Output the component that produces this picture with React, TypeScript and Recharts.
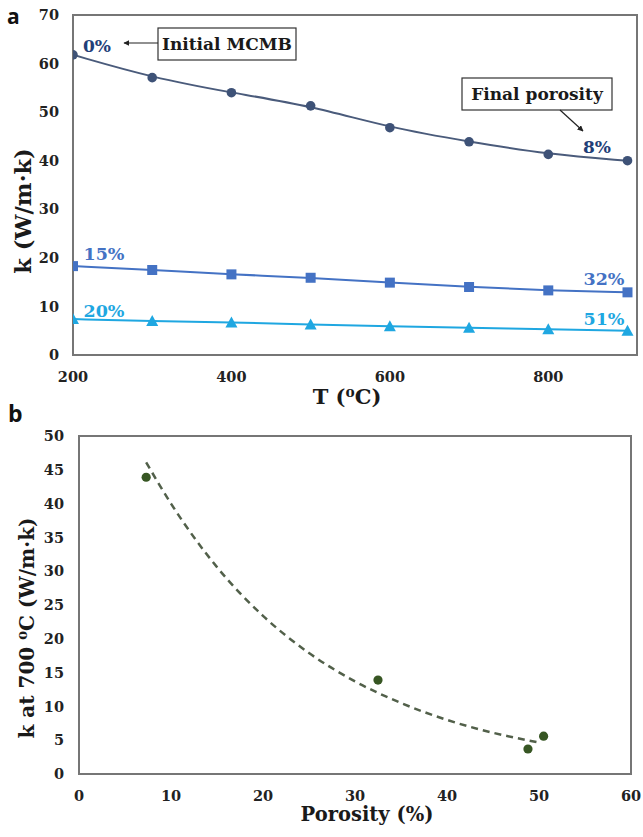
import React from "react";
import {
  ComposedChart,
  Line,
  Scatter,
  XAxis,
  YAxis,
  ReferenceArea,
} from "recharts";

// ---- Panel a data ----
const temps = [200, 300, 400, 500, 600, 700, 800, 900];
const kInitial = [61.8, 57.1, 54.0, 51.3, 46.8, 43.9, 41.3, 40.0];
const kMid = [18.3, 17.5, 16.6, 15.9, 14.9, 14.0, 13.3, 12.9];
const kLow = [7.4, 7.0, 6.7, 6.3, 5.9, 5.6, 5.3, 5.0];
const tTicks = [200, 400, 600, 800];
const kTicksA = [0, 10, 20, 30, 40, 50, 60, 70];

// ---- Panel b data ----
const porosity = [7.3, 32.5, 48.8, 50.5];
const k700 = [43.9, 13.9, 3.7, 5.6];
const trendPorosity = [7.3, 10, 15, 20, 25, 30, 35, 40, 45, 49.8];
const trendK = [46.1, 40.0, 30.6, 23.4, 17.9, 13.7, 10.5, 8.0, 6.1, 4.7];
const porTicks = [0, 10, 20, 30, 40, 50, 60];
const kTicksB = [0, 5, 10, 15, 20, 25, 30, 35, 40, 45, 50];

const rowsA = temps.map((t, i) => ({ T: t, a: kInitial[i], b: kMid[i], c: kLow[i] }));
const rowsB = porosity.map((p, i) => ({ x: p, k: k700[i] }));
const rowsTrend = trendPorosity.map((p, i) => ({ x: p, k: trendK[i] }));

const SERIF = "DejaVu Serif";
const AXIS = "#767676";
const C1 = "#4A5B7B";
const C1DOT = "#3E5277";
const C1TXT = "#223E78";
const C2 = "#4472C4";
const C3 = "#1FA7E1";
const GREEN = "#375623";
const TREND = "#52604A";

const tickStyle = { fontFamily: SERIF, fontWeight: 700, fontSize: 14.5, fill: "#222" };

const CircleDot = (props: any) => {
  const { cx, cy, index } = props;
  if (cx == null || cy == null) return <g key={`c${index}`} />;
  return <circle key={`c${index}`} cx={cx} cy={cy} r={4.8} fill={C1DOT} />;
};
const SquareDot = (props: any) => {
  const { cx, cy, index } = props;
  if (cx == null || cy == null) return <g key={`s${index}`} />;
  return <rect key={`s${index}`} x={cx - 5} y={cy - 5} width={10} height={10} fill={C2} />;
};
const TriDot = (props: any) => {
  const { cx, cy, index } = props;
  if (cx == null || cy == null) return <g key={`t${index}`} />;
  return (
    <polygon
      key={`t${index}`}
      points={`${cx},${cy - 6} ${cx - 6},${cy + 5} ${cx + 6},${cy + 5}`}
      fill={C3}
    />
  );
};

const labelFont = { fontFamily: SERIF, fontWeight: 700 } as const;

export default function App() {
  return (
    <div
      style={{
        position: "absolute",
        left: 0,
        top: 0,
        width: 643,
        height: 837,
        background: "#fff",
        overflow: "hidden",
      }}
    >
      <div style={{ position: "absolute", left: 0, top: 0 }}>
        <ComposedChart
          width={643}
          height={410}
          data={rowsA}
          margin={{ top: 15, right: 6, bottom: 0, left: 0 }}
        >
          <XAxis
            type="number"
            dataKey="T"
            domain={[200, 912]}
            ticks={tTicks}
            allowDataOverflow
            height={55}
            tickSize={0}
            tickMargin={17}
            tick={tickStyle}
            axisLine={{ stroke: AXIS, strokeWidth: 2 }}
          />
          <YAxis
            type="number"
            domain={[0, 70]}
            ticks={kTicksA}
            width={73}
            tickSize={0}
            tickMargin={14}
            tick={tickStyle}
            axisLine={{ stroke: AXIS, strokeWidth: 2 }}
          />
          <ReferenceArea
            x1={200}
            x2={912}
            y1={0}
            y2={70}
            fill="none"
            fillOpacity={0}
            stroke={AXIS}
            strokeWidth={2}
          />
          <Line
            type="basis"
            dataKey="a"
            stroke={C1}
            strokeWidth={2}
            dot={CircleDot}
            activeDot={false}
            isAnimationActive={false}
          />
          <Line
            type="basis"
            dataKey="b"
            stroke={C2}
            strokeWidth={2}
            dot={SquareDot}
            activeDot={false}
            isAnimationActive={false}
          />
          <Line
            type="basis"
            dataKey="c"
            stroke={C3}
            strokeWidth={2}
            dot={TriDot}
            activeDot={false}
            isAnimationActive={false}
          />
        </ComposedChart>
      </div>

      <div style={{ position: "absolute", left: 0, top: 400 }}>
        <ComposedChart
          width={643}
          height={437}
          margin={{ top: 36, right: 12, bottom: 0, left: 0 }}
        >
          <XAxis
            type="number"
            dataKey="x"
            domain={[0, 60]}
            ticks={porTicks}
            height={63}
            tickSize={0}
            tickMargin={17}
            tick={tickStyle}
            axisLine={{ stroke: AXIS, strokeWidth: 2 }}
          />
          <YAxis
            type="number"
            domain={[0, 50]}
            ticks={kTicksB}
            width={79}
            tickSize={0}
            tickMargin={15}
            tick={tickStyle}
            axisLine={{ stroke: AXIS, strokeWidth: 2 }}
          />
          <ReferenceArea
            x1={0}
            x2={60}
            y1={0}
            y2={50}
            fill="none"
            fillOpacity={0}
            stroke={AXIS}
            strokeWidth={2}
          />
          <Line
            data={rowsTrend}
            type="monotone"
            dataKey="k"
            stroke={TREND}
            strokeWidth={2.5}
            strokeDasharray="7 5"
            dot={false}
            activeDot={false}
            isAnimationActive={false}
          />
          <Scatter
            data={rowsB}
            dataKey="k"
            fill={GREEN}
            shape={(p: any) => <circle cx={p.cx} cy={p.cy} r={4.6} fill={GREEN} />}
            isAnimationActive={false}
          />
        </ComposedChart>
      </div>

      <svg
        width={643}
        height={837}
        style={{ position: "absolute", left: 0, top: 0, pointerEvents: "none" }}
      >
        <defs>
          <marker
            id="ah"
            viewBox="0 0 10 10"
            refX="9"
            refY="5"
            markerWidth="5"
            markerHeight="5"
            orient="auto-start-reverse"
          >
            <path d="M0,0 L10,5 L0,10 z" fill="#222" />
          </marker>
        </defs>

        {/* panel letters */}
        <text x={7} y={24} style={{ fontFamily: "Open Sans", fontWeight: 700, fontSize: 21 }} fill="#111">
          a
        </text>
        <text x={8} y={422} style={{ fontFamily: "Open Sans", fontWeight: 700, fontSize: 23 }} fill="#111">
          b
        </text>

        {/* axis titles panel a */}
        <text
          transform="translate(31,211) rotate(-90)"
          textAnchor="middle"
          style={{ ...labelFont, fontSize: 22.5 }}
          fill="#1a1a1a"
        >
          k (W/m·k)
        </text>
        <text x={347} y={404} textAnchor="middle" style={{ ...labelFont, fontSize: 21 }} fill="#1a1a1a">
          T (⁰C)
        </text>

        {/* axis titles panel b */}
        <text
          transform="translate(34,628) rotate(-90)"
          textAnchor="middle"
          style={{ ...labelFont, fontSize: 20 }}
          fill="#1a1a1a"
        >
          k at 700 ⁰C  (W/m·k)
        </text>
        <text x={367} y={821} textAnchor="middle" style={{ ...labelFont, fontSize: 19.5 }} fill="#1a1a1a">
          Porosity (%)
        </text>

        {/* annotations panel a */}
        <text x={97} y={52} textAnchor="middle" style={{ ...labelFont, fontSize: 17 }} fill={C1TXT}>
          0%
        </text>
        <rect x={158} y={28} width={138} height={32} fill="#fff" stroke="#333" strokeWidth={1.2} />
        <text x={227} y={50} textAnchor="middle" style={{ ...labelFont, fontSize: 17 }} fill="#1a1a1a">
          Initial MCMB
        </text>
        <line x1={158} y1={43} x2={124} y2={43} stroke="#222" strokeWidth={1.2} markerEnd="url(#ah)" />

        <rect x={462} y={78} width={150} height={32} fill="#fff" stroke="#333" strokeWidth={1.2} />
        <text x={537} y={100} textAnchor="middle" style={{ ...labelFont, fontSize: 17 }} fill="#1a1a1a">
          Final porosity
        </text>
        <line x1={560} y1={110} x2={583} y2={131} stroke="#222" strokeWidth={1.2} markerEnd="url(#ah)" />
        <text x={597} y={153} textAnchor="middle" style={{ ...labelFont, fontSize: 17 }} fill={C1TXT}>
          8%
        </text>

        <text x={104} y={260} textAnchor="middle" style={{ ...labelFont, fontSize: 17.5 }} fill={C2}>
          15%
        </text>
        <text x={604} y={285} textAnchor="middle" style={{ ...labelFont, fontSize: 17.5 }} fill={C2}>
          32%
        </text>
        <text x={104} y={317} textAnchor="middle" style={{ ...labelFont, fontSize: 17.5 }} fill={C3}>
          20%
        </text>
        <text x={604} y={325} textAnchor="middle" style={{ ...labelFont, fontSize: 17.5 }} fill={C3}>
          51%
        </text>
      </svg>
    </div>
  );
}
